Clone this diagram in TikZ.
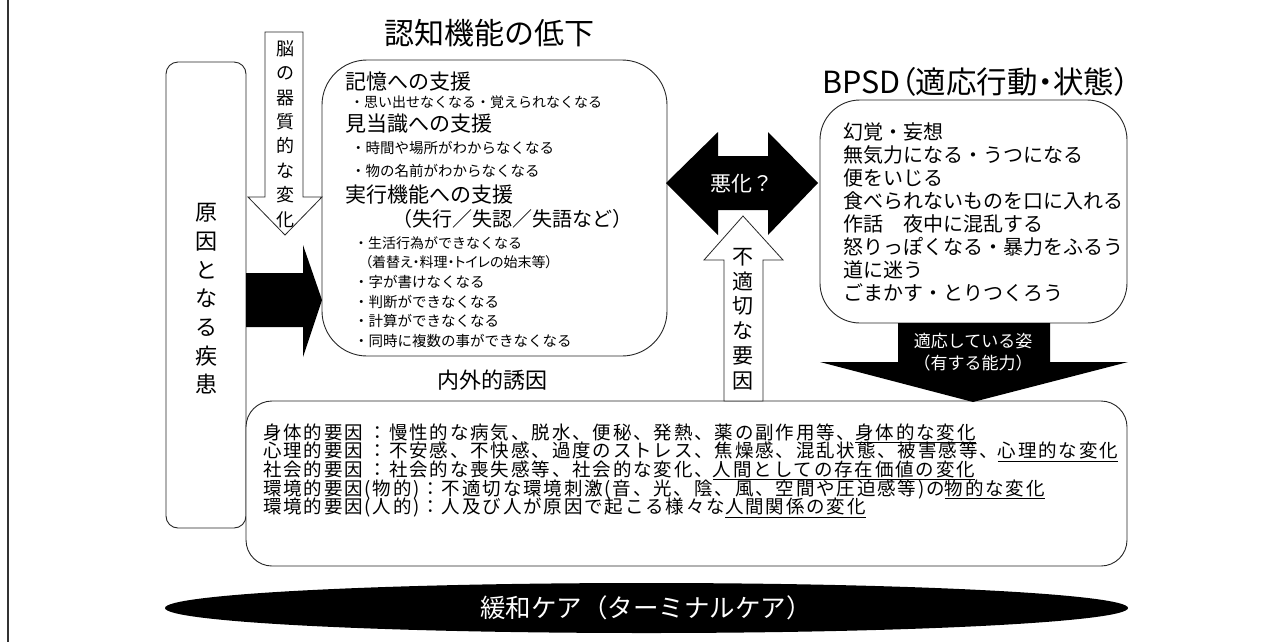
\documentclass[tikz,border=0pt]{standalone}
\usepackage{fontspec}
\newfontfamily\jp{Noto Sans CJK JP}
\newfontfamily\jpp{Noto Sans CJK JP}[RawFeature=+palt]
\newfontfamily\jpw{Noto Sans CJK JP}[LetterSpace=10]
\newcommand\fsz[1]{\fontsize{#1}{#1}\selectfont}
\newcommand\myul[1]{\underline{#1}}
\begin{document}
\begin{tikzpicture}[x=1pt,y=-1pt,
  box/.style={draw=black!85, line width=0.9pt, fill=white, inner sep=0pt, outer sep=0pt},
  txt/.style={inner sep=0pt, outer sep=0pt, anchor=west, font=\jp},
  ctxt/.style={inner sep=0pt, outer sep=0pt, font=\jp},
  vtxt/.style={inner sep=0pt, outer sep=0pt, align=center},
  warrow/.style={draw=black!85, line width=0.8pt, fill=white, line join=miter},
  barrow/.style={fill=black},
  ftxt/.style={txt, font=\jpw\fsz{18.5}},
]
\useasboundingbox (0,0) rectangle (1283,641);
\fill[white] (0,0) rectangle (1283,641);
% left border
\draw[black!80, line width=2.4pt] (8,-2) -- (8,643);

% boxes
\node[box, minimum width=80pt, minimum height=466pt, rounded corners=12pt] (causebox) at (206,295) {};
\node[box, minimum width=881pt, minimum height=165pt, rounded corners=26pt] (factorbox) at (686.5,483.5) {};
\node[box, minimum width=345pt, minimum height=296pt, rounded corners=45pt] (cogbox) at (494.5,208) {};
\node[box, minimum width=307pt, minimum height=223pt, rounded corners=40pt] (bpsdbox) at (973.5,211.5) {};

% white down arrow (brain change)
\draw[warrow] (265,32) -- (303,32) -- (303,197) -- (322,197) -- (285,235) -- (248,197) -- (265,197) -- cycle;
% black right arrow
\fill[barrow] (246,273) -- (303,273) -- (303,245) -- (322,300) -- (303,357) -- (303,327) -- (246,327) -- cycle;
% black double arrow
\fill[barrow] (666,183) -- (718,132) -- (718,156) -- (768,156) -- (768,132) -- (818,183) -- (768,235) -- (768,210) -- (718,210) -- (718,235) -- cycle;
% white up arrow
\draw[warrow] (724,401) -- (724,260) -- (704,260) -- (743,216) -- (783,260) -- (763,260) -- (763,401) -- cycle;
% black down arrow
\fill[barrow] (898,323) -- (1050,323) -- (1050,362) -- (1128,362) -- (973,402) -- (820,362) -- (898,362) -- cycle;
% ellipse
\fill[black] (646.5,608) ellipse [x radius=481.5pt, y radius=25pt];

% vertical texts
\node[vtxt, font=\jp\fontsize{22}{28.7}\selectfont] (causetxt) at (206,299) {原\\因\\と\\な\\る\\疾\\患};
\node[vtxt, font=\jp\fontsize{18}{24.4}\selectfont] (braintxt) at (285,134) {脳\\の\\器\\質\\的\\な\\変\\化};
\node[vtxt, font=\jp\fontsize{21}{24.8}\selectfont] (inaptxt) at (743,319) {不\\適\\切\\な\\要\\因};

% titles
\node[ctxt, font=\jp\fsz{30}] (cogtitle) at (489,33) {認知機能の低下};
\node[ctxt, font=\jpp\fsz{30.5}] (bpsdtitle) at (976,82) {BPSD（適応行動・状態）};
\node[ctxt, font=\jp\fsz{22}] (inner) at (492,380) {内外的誘因};
\node[ctxt, font=\jp\fsz{21}, text=white] (worse) at (742,184) {悪化？};
\node[ctxt, align=center, font=\jp\fontsize{17}{22}\selectfont, text=white] (adapt) at (973,352) {適応している姿\\（有する能力）};
\node[ctxt, font=\jp\fsz{25.5}, text=white] (care) at (646,608) {緩和ケア（ターミナルケア）};

% cognitive box content
\node[txt, font=\jp\fsz{21}] (c1) at (345,82) {記憶への支援};
\node[txt, font=\jp\fsz{14}] (c2) at (350,102) {・思い出せなくなる・覚えられなくなる};
\node[txt, font=\jp\fsz{21}] (c3) at (345,124) {見当識への支援};
\node[txt, font=\jp\fsz{14.5}] (c4) at (351,148) {・時間や場所がわからなくなる};
\node[txt, font=\jp\fsz{14.5}] (c5) at (351,171) {・物の名前がわからなくなる};
\node[txt, font=\jp\fsz{21}] (c6) at (345,195) {実行機能への支援};
\node[txt, font=\jp\fsz{20}] (c7) at (392,219) {（失行／失認／失語など）};
\node[txt, font=\jp\fsz{14}] (c8) at (354,243) {・生活行為ができなくなる};
\node[txt, font=\jpp\fsz{14}] (c9) at (365,262) {（着替え・料理・トイレの始末等）};
\node[txt, font=\jp\fsz{14.5}] (c10) at (354,282) {・字が書けなくなる};
\node[txt, font=\jp\fsz{14.5}] (c11) at (354,302) {・判断ができなくなる};
\node[txt, font=\jp\fsz{14.5}] (c12) at (354,321) {・計算ができなくなる};
\node[txt, font=\jp\fsz{14.5}] (c13) at (354,341) {・同時に複数の事ができなくなる};

% BPSD content
\node[txt, font=\jp\fsz{20}] (b1) at (843,132) {幻覚・妄想};
\node[txt, font=\jp\fsz{20}] (b2) at (843,155) {無気力になる・うつになる};
\node[txt, font=\jp\fsz{20}] (b3) at (843,178) {便をいじる};
\node[txt, font=\jp\fsz{20}] (b4) at (843,201) {食べられないものを口に入れる};
\node[txt, font=\jp\fsz{20}] (b5) at (843,224) {作話　夜中に混乱する};
\node[txt, font=\jp\fsz{20}] (b6) at (843,247) {怒りっぽくなる・暴力をふるう};
\node[txt, font=\jp\fsz{20}] (b7) at (843,270) {道に迷う};
\node[txt, font=\jp\fsz{20}] (b8) at (843,293) {ごまかす・とりつくろう};

% factor content
\node[ftxt] (f1) at (263,433) {身体的要因 ：慢性的な病気、脱水、便秘、発熱、薬の副作用等、\myul{身体的な変化}};
\node[ftxt] (f2) at (263,451.7) {心理的要因 ：不安感、不快感、過度のストレス、焦燥感、混乱状態、被害感等、\myul{心理的な変化}};
\node[ftxt] (f3) at (263,470.4) {社会的要因 ：社会的な喪失感等、社会的な変化、\myul{人間としての存在価値の変化}};
\node[ftxt] (f4) at (263,489.1) {環境的要因(物的)：不適切な環境刺激(音、光、陰、風、空間や圧迫感等)の\myul{物的な変化}};
\node[ftxt] (f5) at (263,507.8) {環境的要因(人的)：人及び人が原因で起こる様々な\myul{人間関係の変化}};
\end{tikzpicture}
\end{document}
